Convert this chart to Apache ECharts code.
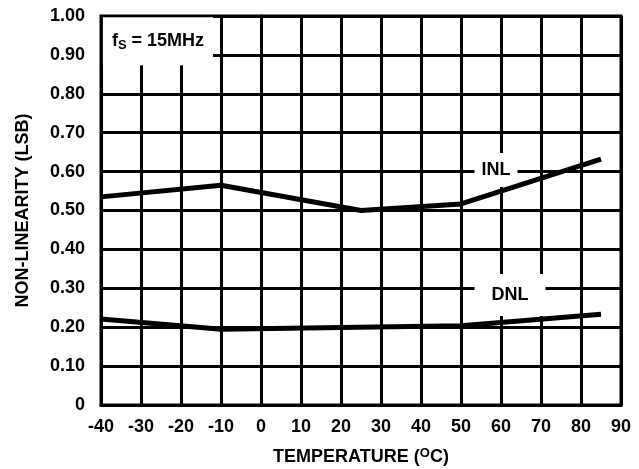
<!DOCTYPE html>
<html>
<head>
<meta charset="utf-8">
<script src="https://cdn.jsdelivr.net/npm/echarts@6/dist/echarts.min.js"></script>
<style>
html,body{margin:0;padding:0;background:#fff;}
#chart{width:639px;height:469px;}
</style>
</head>
<body>
<div id="chart"></div>
<script>
// Data
const inlTemps = [-40, -10, 25, 50, 85];
const inlValues = [0.535, 0.565, 0.50, 0.517, 0.632];
const dnlTemps = [-40, -10, 50, 85];
const dnlValues = [0.221, 0.195, 0.204, 0.233];
const xTicks = [-40, -30, -20, -10, 0, 10, 20, 30, 40, 50, 60, 70, 80, 90];
const yTicks = [0, 0.1, 0.2, 0.3, 0.4, 0.5, 0.6, 0.7, 0.8, 0.9, 1.0];

const FONT = 'Liberation Sans';
const FS = 18;
const chart = echarts.init(document.getElementById('chart'), null, {renderer: 'canvas'});

function pairs(xs, ys) { return xs.map((x, i) => [x, ys[i]]); }

const option = {
  animation: false,
  backgroundColor: '#fff',
  textStyle: {fontFamily: FONT, fontWeight: 'bold', color: '#000'},
  grid: {left: 101, right: 18, top: 16, bottom: 64, show: true, borderColor: '#000', borderWidth: 3,
    backgroundColor: 'transparent', containLabel: false, outerBoundsMode: 'none'},
  xAxis: {
    type: 'value', min: xTicks[0], max: xTicks[xTicks.length - 1], interval: 10,
    name: '{n|TEMPERATURE (}{s|O}{n|C)}',
    nameLocation: 'middle', nameGap: 42,
    nameTextStyle: {
      rich: {
        n: {fontFamily: FONT, fontWeight: 'bold', fontSize: FS, color: '#000', lineHeight: 20},
        s: {fontFamily: FONT, fontWeight: 'bold', fontSize: 13, color: '#000', lineHeight: 20, padding: [0, 0, 7, 0]}
      }
    },
    axisLine: {show: true, lineStyle: {color: '#000', width: 3}},
    axisTick: {show: false},
    axisLabel: {fontFamily: FONT, fontWeight: 'bold', fontSize: FS, color: '#000', margin: 13},
    splitLine: {show: true, lineStyle: {color: '#000', width: 3}}
  },
  yAxis: {
    type: 'value', min: yTicks[0], max: yTicks[yTicks.length - 1], interval: 0.1,
    name: 'NON-LINEARITY (LSB)',
    nameLocation: 'middle', nameGap: 69,
    nameTextStyle: {fontFamily: FONT, fontWeight: 'bold', fontSize: FS, color: '#000'},
    axisLine: {show: true, lineStyle: {color: '#000', width: 3}},
    axisTick: {show: false},
    axisLabel: {fontFamily: FONT, fontWeight: 'bold', fontSize: FS, color: '#000', margin: 16,
      formatter: v => (Math.abs(v) < 1e-9 ? '0' : v.toFixed(2))},
    splitLine: {show: true, lineStyle: {color: '#000', width: 3}}
  },
  series: [
    {
      name: 'annotations', type: 'scatter', symbolSize: 0, z: 2, silent: true,
      itemStyle: {opacity: 1},
      data: [
        {value: [-25.75, 0.935], label: {
          formatter: '{a|f}{s|S}{a| = 15MHz}',
          padding: [15, 9, 15, 9],
          rich: {
            a: {fontFamily: FONT, fontWeight: 'bold', fontSize: FS, color: '#000', lineHeight: 18},
            s: {fontFamily: FONT, fontWeight: 'bold', fontSize: 13, color: '#000', lineHeight: 18, padding: [9, 0, 0, 0]}
          }
        }},
        {value: [58.75, 0.604], label: {formatter: 'INL', padding: [10, 7, 10, 7], lineHeight: 14}},
        {value: [62.25, 0.283], label: {formatter: 'DNL', padding: [14, 17, 14, 17], lineHeight: 14}}
      ],
      label: {
        show: true, position: 'inside', backgroundColor: '#fff', opacity: 1,
        fontFamily: FONT, fontWeight: 'bold', fontSize: FS, color: '#000'
      }
    },
    {
      name: 'INL', type: 'line', data: pairs(inlTemps, inlValues),
      symbol: 'none', lineStyle: {color: '#000', width: 5}, z: 3
    },
    {
      name: 'DNL', type: 'line', data: pairs(dnlTemps, dnlValues),
      symbol: 'none', lineStyle: {color: '#000', width: 5}, z: 3
    }
  ]
};
chart.setOption(option);
</script>
</body>
</html>
